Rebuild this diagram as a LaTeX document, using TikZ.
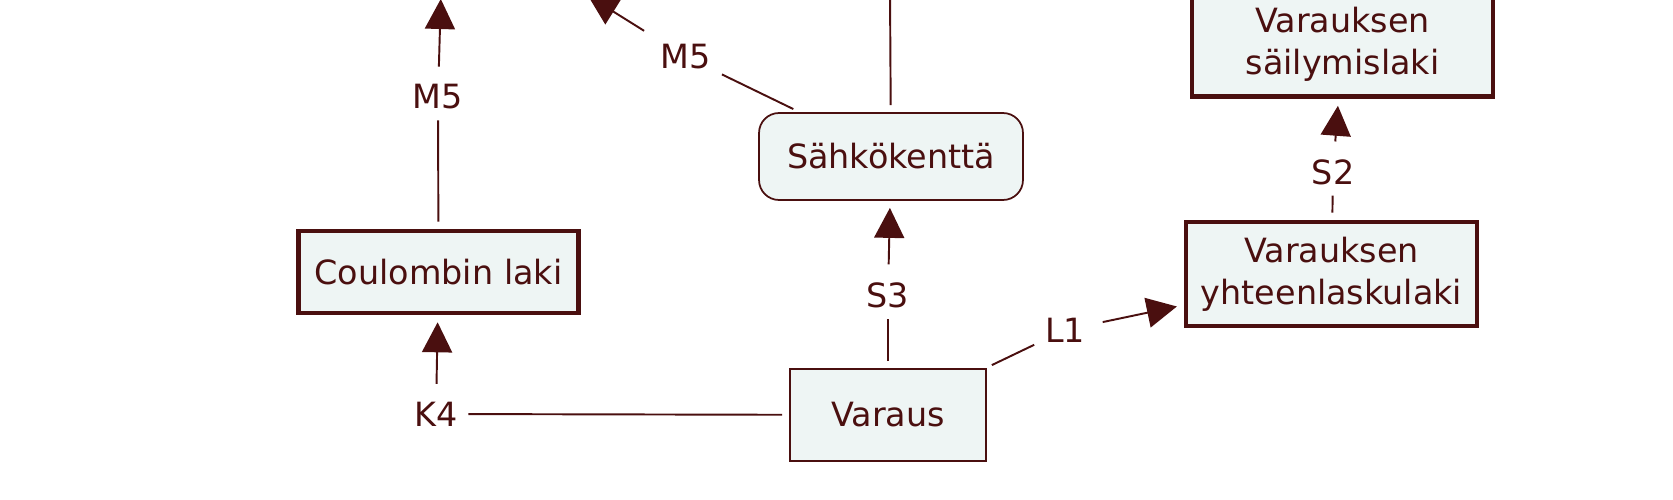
\documentclass[tikz,border=0pt]{standalone}
\usepackage{fontspec}
\setmainfont{DejaVu Sans}
\usetikzlibrary{arrows.meta}
\definecolor{darkmaroon}{HTML}{4A0F0F}
\definecolor{palemint}{HTML}{EEF5F4}
\begin{document}
\begin{tikzpicture}[x=0.02cm, y=-0.02cm, every node/.style={text=darkmaroon, font=\fontsize{19}{24}\selectfont},
  conceptbox/.style={draw=darkmaroon, fill=palemint, line width=1pt, inner sep=0pt, align=center},
  lawbox/.style={conceptbox, line width=2.6pt},
  linkname/.style={inner sep=6pt},
  link/.style={draw=darkmaroon, line width=1.1pt, shorten <=4pt},
  linkarrow/.style={link, shorten >=4pt, -{Triangle[length=0.6cm, width=0.6cm]}}]
\clip (0,0) rectangle (1673,500);
\useasboundingbox (0,0) rectangle (1673,500);
% concepts
\node [lawbox, minimum width=5.6cm, minimum height=1.64cm] (Coulomb) at (438.5,272) {Coulombin laki};
\node [conceptbox, rounded corners=0.4cm, minimum width=5.28cm, minimum height=1.74cm] (Kentta) at (891,156.5) {Sähkökenttä};
\node [conceptbox, minimum width=3.92cm, minimum height=1.84cm] (Varaus) at (888,415) {Varaus};
\node [lawbox, minimum width=5.82cm, minimum height=2.08cm] (Yhteen) at (1331.5,274) {Varauksen\\yhteenlaskulaki};
\node [lawbox, minimum width=6.02cm, minimum height=2.1cm] (Sailymis) at (1342.5,44) {Varauksen\\säilymislaki};
% link names
\node [linkname] (K4) at (436,414) {K4};
\node [linkname] (S3) at (888,295) {S3};
\node [linkname] (L1) at (1065,330) {L1};
\node [linkname] (S2) at (1333,172) {S2};
\node [linkname] (M5a) at (438,97) {M5};
\node [linkname] (M5b) at (686,57) {M5};
\coordinate (TopA) at (441,-8);
\coordinate (TopB) at (582,-8);
\coordinate (TopC) at (890,-8);
% links
\draw [link] (Varaus) -- (K4);
\draw [linkarrow] (K4) -- (Coulomb);
\draw [link] (Varaus) -- (S3);
\draw [linkarrow] (S3) -- (Kentta);
\draw [link] (Varaus) -- (L1);
\draw [linkarrow] (L1) -- (Yhteen);
\draw [link] (Yhteen) -- (S2);
\draw [linkarrow] (S2) -- (Sailymis);
\draw [link] (Coulomb) -- (M5a);
\draw [linkarrow] (M5a) -- (TopA);
\draw [link] (Kentta) -- (M5b);
\draw [linkarrow] (M5b) -- (TopB);
\draw [link] (Kentta) -- (TopC);
\end{tikzpicture}
\end{document}
